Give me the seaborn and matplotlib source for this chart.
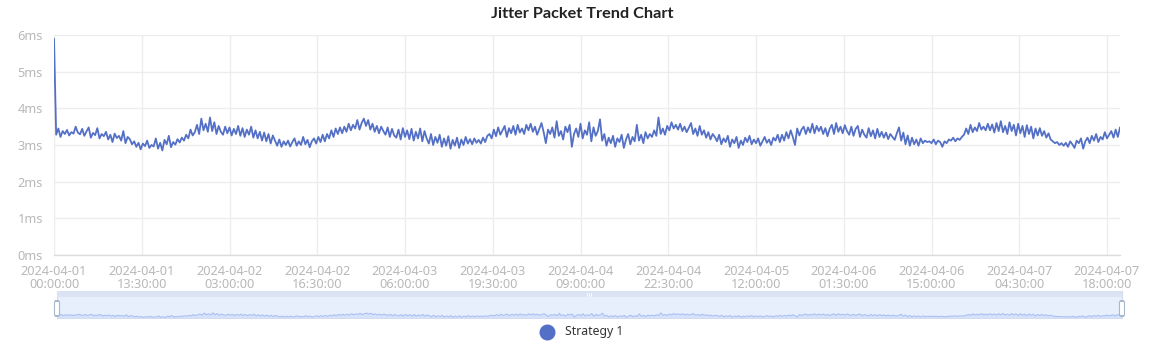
import numpy as np
import pandas as pd
import matplotlib
matplotlib.use("Agg")
import matplotlib.pyplot as plt
from matplotlib.patches import FancyBboxPatch, Rectangle
import seaborn as sns

# Jitter readings (ms), one every 20 minutes, split by day
day1 = [5.90, 3.28, 3.45, 3.22, 3.38, 3.30, 3.41, 3.26, 3.35, 3.31, 3.50, 3.34,
        3.29, 3.44, 3.25, 3.37, 3.48, 3.20, 3.33, 3.27, 3.46, 3.18, 3.30, 3.24,
        3.36, 3.15, 3.28, 3.08, 3.31, 3.19, 3.25, 3.12, 3.38, 3.05, 3.22, 3.16,
        3.02, 3.10, 2.95, 3.06, 2.88, 3.04, 2.97, 3.12, 2.92, 3.00, 2.96, 3.18,
        2.90, 3.06, 2.85, 3.14, 3.02, 3.25, 2.94, 3.08, 3.01, 3.16, 3.07, 3.20,
        3.12, 3.28, 3.18, 3.42, 3.26, 3.35, 3.55, 3.30, 3.72, 3.40, 3.58, 3.36]
day2 = [3.75, 3.38, 3.62, 3.30, 3.52, 3.36, 3.28, 3.50, 3.32, 3.48, 3.26, 3.44,
        3.30, 3.52, 3.25, 3.46, 3.22, 3.42, 3.28, 3.50, 3.20, 3.40, 3.18, 3.36,
        3.12, 3.34, 3.10, 3.30, 3.04, 3.26, 3.12, 2.98, 3.15, 2.95, 3.10, 3.00,
        3.12, 2.96, 3.08, 3.18, 2.98, 3.10, 3.00, 3.22, 3.02, 3.14, 2.94, 3.10,
        3.18, 3.04, 3.22, 3.08, 3.28, 3.10, 3.30, 3.18, 3.40, 3.22, 3.45, 3.30,
        3.48, 3.32, 3.50, 3.36, 3.58, 3.40, 3.55, 3.45, 3.68, 3.42, 3.60, 3.72]
day3 = [3.52, 3.68, 3.42, 3.58, 3.36, 3.52, 3.32, 3.50, 3.38, 3.28, 3.48, 3.22,
        3.44, 3.26, 3.20, 3.42, 3.15, 3.46, 3.22, 3.40, 3.16, 3.44, 3.12, 3.36,
        3.18, 3.45, 3.10, 3.38, 3.18, 3.04, 3.30, 3.00, 3.22, 3.06, 3.28, 2.95,
        3.18, 2.98, 3.24, 2.90, 3.14, 2.98, 3.20, 2.92, 3.15, 3.00, 3.22, 3.04,
        3.16, 3.02, 3.18, 3.06, 3.14, 3.04, 3.20, 3.08, 3.25, 3.30, 3.18, 3.42,
        3.24, 3.48, 3.28, 3.40, 3.52, 3.22, 3.46, 3.32, 3.52, 3.28, 3.55, 3.34]
day4 = [3.45, 3.30, 3.55, 3.40, 3.58, 3.36, 3.50, 3.28, 3.44, 3.60, 3.35, 3.05,
        3.42, 3.30, 3.48, 3.20, 3.65, 3.25, 3.38, 3.15, 3.50, 3.35, 3.55, 2.95,
        3.30, 3.45, 3.22, 3.58, 3.18, 3.40, 3.28, 3.62, 3.10, 3.48, 3.25, 3.38,
        3.70, 3.12, 3.30, 2.98, 3.20, 3.05, 3.25, 2.95, 3.18, 3.08, 3.28, 2.92,
        3.15, 3.30, 3.02, 3.22, 3.10, 3.55, 3.12, 3.28, 3.05, 3.35, 3.18, 3.30,
        3.22, 3.40, 3.25, 3.75, 3.30, 3.45, 3.28, 3.52, 3.40, 3.62, 3.45, 3.55]
day5 = [3.42, 3.58, 3.38, 3.50, 3.35, 3.47, 3.60, 3.30, 3.45, 3.25, 3.52, 3.28,
        3.40, 3.20, 3.35, 3.15, 3.30, 3.22, 3.10, 3.28, 3.02, 3.18, 3.08, 3.25,
        2.95, 3.15, 3.05, 3.22, 2.92, 3.12, 3.00, 3.20, 3.08, 3.25, 3.02, 3.15,
        3.05, 3.18, 2.98, 3.10, 3.22, 3.06, 3.15, 3.00, 3.20, 3.12, 3.28, 3.08,
        3.28, 3.12, 3.35, 3.18, 3.40, 3.22, 3.00, 3.45, 3.26, 3.42, 3.50, 3.30,
        3.48, 3.34, 3.58, 3.32, 3.52, 3.38, 3.50, 3.30, 3.46, 3.24, 3.44, 3.55]
day6 = [3.30, 3.60, 3.36, 3.50, 3.32, 3.54, 3.38, 3.28, 3.50, 3.25, 3.44, 3.52,
        3.22, 3.42, 3.28, 3.20, 3.46, 3.24, 3.40, 3.18, 3.44, 3.22, 3.36, 3.20,
        3.34, 3.16, 3.30, 3.22, 3.14, 3.32, 3.48, 3.12, 3.34, 3.02, 3.26, 2.98,
        3.20, 3.02, 3.15, 2.98, 3.18, 3.05, 3.12, 3.08, 3.10, 3.05, 3.15, 3.02,
        3.12, 3.08, 2.95, 3.10, 3.05, 3.15, 3.12, 3.20, 3.10, 3.18, 3.14, 3.22,
        3.28, 3.45, 3.30, 3.55, 3.35, 3.48, 3.38, 3.60, 3.42, 3.50, 3.40, 3.58]
day7 = [3.40, 3.56, 3.34, 3.60, 3.38, 3.65, 3.35, 3.52, 3.30, 3.62, 3.38, 3.55,
        3.26, 3.58, 3.32, 3.52, 3.22, 3.54, 3.30, 3.50, 3.18, 3.45, 3.26, 3.46,
        3.25, 3.38, 3.20, 3.32, 3.15, 3.10, 3.05, 3.08, 3.00, 3.05, 2.98, 3.06,
        2.95, 3.10, 3.02, 2.92, 3.12, 3.05, 3.18, 2.90, 3.10, 3.20, 3.05, 3.25,
        3.12, 3.30, 3.08, 3.22, 3.15, 3.35, 3.18, 3.28, 3.38, 3.20, 3.42, 3.22,
        3.48]

start_time = "2024-04-01 00:00:00"
sample_step = "20min"
series_name = "Strategy 1"
chart_title = "Jitter Packet Trend Chart"
y_ticks = [0, 1, 2, 3, 4, 5, 6]
y_tick_labels = ["0ms", "1ms", "2ms", "3ms", "4ms", "5ms", "6ms"]
x_tick_times = ["2024-04-01 00:00:00", "2024-04-01 13:30:00", "2024-04-02 03:00:00",
                "2024-04-02 16:30:00", "2024-04-03 06:00:00", "2024-04-03 19:30:00",
                "2024-04-04 09:00:00", "2024-04-04 22:30:00", "2024-04-05 12:00:00",
                "2024-04-06 01:30:00", "2024-04-06 15:00:00", "2024-04-07 04:30:00",
                "2024-04-07 18:00:00"]

values = day1 + day2 + day3 + day4 + day5 + day6 + day7
times = pd.date_range(start_time, periods=len(values), freq=sample_step)
df = pd.DataFrame({"time": times, "jitter": values})

sns.set_theme(style="white")
plt.rcParams["font.family"] = ["Noto Sans", "DejaVu Sans"]

LINE = "#5470c6"
GRID = "#ededed"
TICK = "#b8b8b8"
W, H = 1160, 344

fig = plt.figure(figsize=(W / 100, H / 100), dpi=100)
fig.patch.set_facecolor("white")

# main plot area
ax = fig.add_axes([54 / W, 1 - 255 / H, 1066 / W, 220 / H])
sns.lineplot(data=df, x="time", y="jitter", ax=ax, color=LINE, linewidth=1.3)
ax.set_xlim(times[0], times[-1])
ax.set_ylim(0, 6)
ax.set_yticks(y_ticks)
ax.set_yticklabels(y_tick_labels)
tick_pos = pd.to_datetime(x_tick_times)
ax.set_xticks(tick_pos)
ax.set_xticklabels([t.strftime("%Y-%m-%d\n%H:%M:%S") for t in tick_pos],
                   linespacing=1.0)
ax.set_xlabel("")
ax.set_ylabel("")
ax.grid(True, color=GRID, linewidth=1.0)
ax.set_axisbelow(True)
for s in ["top", "right", "left"]:
    ax.spines[s].set_visible(False)
ax.spines["bottom"].set_color("#dcdcdc")
ax.spines["bottom"].set_linewidth(1.0)
ax.tick_params(axis="both", length=0, colors=TICK, labelsize=9.2)
ax.tick_params(axis="y", pad=8)
ax.tick_params(axis="x", pad=7)

fig.text(582 / W, 1 - 14 / H, chart_title, ha="center", va="center",
         fontsize=11.7, fontweight="bold", color="#222222",
         family=["Lato", "DejaVu Sans"])

# range slider under the chart with a data shadow
sx0, sx1, sy0, sy1 = 57, 1122, 291, 318
sax = fig.add_axes([sx0 / W, 1 - sy1 / H, (sx1 - sx0) / W, (sy1 - sy0) / H])
sax.set_xlim(times[0], times[-1])
vmin, vmax = min(values), max(values)
span = vmax - vmin
sax.set_ylim(vmin - 0.02 * span, vmin - 0.02 * span + span * 1.3 / 0.78)
sax.set_facecolor("#e7eefc")
sax.fill_between(df["time"], vmin - span, df["jitter"], color="#d6e2fb", linewidth=0)
sns.lineplot(data=df, x="time", y="jitter", ax=sax, color="#a9c0f2", linewidth=0.8)
sax.set_xlabel("")
sax.set_ylabel("")
sax.set_xticks([])
sax.set_yticks([])
for s in sax.spines.values():
    s.set_color("#d6dced")
    s.set_linewidth(0.8)

# move-handle strip at the top of the slider
fig.patches.append(Rectangle((sx0 / W, 1 - 297 / H), (sx1 - sx0) / W, 6 / H,
                             transform=fig.transFigure, facecolor="#dbe2f1",
                             edgecolor="none", zorder=5))
for dx in (-2, 0, 2):
    fig.lines.append(plt.Line2D([(589 + dx) / W] * 2, [1 - 296 / H, 1 - 292.5 / H],
                                transform=fig.transFigure, color="#ffffff",
                                linewidth=0.6, zorder=6))

# side handles
for hx in (sx0, sx1):
    fig.patches.append(FancyBboxPatch(((hx - 2.5) / W, 1 - 316 / H), 5 / W, 15 / H,
                                      boxstyle="round,pad=0,rounding_size=0.004",
                                      transform=fig.transFigure, facecolor="white",
                                      edgecolor="#a7b7cc", linewidth=0.8, zorder=7))

# legend
fig.lines.append(plt.Line2D([547 / W], [1 - 332 / H], marker="o", markersize=10.5,
                            color=LINE, linestyle="none", transform=fig.transFigure))
fig.text(565 / W, 1 - 332 / H, series_name, ha="left", va="center",
         fontsize=8.8, color="#333333")

fig.savefig("out.png", dpi=100, facecolor="white")
